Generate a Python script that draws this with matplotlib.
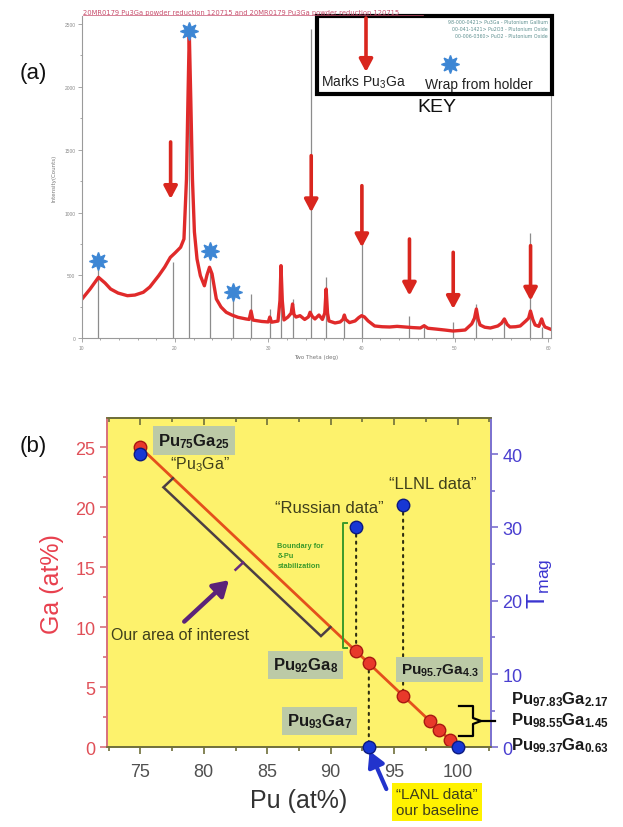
import matplotlib
matplotlib.use('Agg')
import matplotlib.pyplot as plt
from matplotlib.patches import Rectangle
from matplotlib.lines import Line2D
from matplotlib.ticker import MultipleLocator

plt.rcParams['font.family'] = ['Liberation Sans', 'DejaVu Sans']
plt.rcParams['mathtext.fontset'] = 'custom'
plt.rcParams['mathtext.rm'] = 'Liberation Sans'
plt.rcParams['mathtext.it'] = 'Liberation Sans:italic'
plt.rcParams['mathtext.bf'] = 'Liberation Sans:bold'
plt.rcParams['mathtext.default'] = 'regular'

W, H = 623, 828

# ---------------- Panel (a) data ----------------
xrd_two_theta = [10.04, 10.9, 11.8, 12.5, 13.1, 13.9, 14.9, 15.7, 16.6, 17.3, 18.25, 18.9, 19.5, 20.0,
                 20.6, 20.96, 21.23, 21.39, 21.53, 21.69, 21.87, 22.08, 22.36, 22.72, 23.15, 23.43,
                 23.70, 23.97, 24.43, 24.93, 25.49, 26.1, 26.75, 27.6, 27.95, 28.15, 28.35, 29.3,
                 30.0, 30.16, 30.35, 31.04, 31.25, 31.36, 31.5, 31.68, 32.1, 32.45, 32.6, 32.75,
                 32.97, 33.4, 33.9, 34.3, 34.48, 34.7, 35.0, 35.43, 35.8, 36.05, 36.2, 36.35, 36.5,
                 37.15, 37.7, 38.0, 38.15, 38.3, 38.7, 39.3, 39.7, 40.0, 40.3, 40.7, 41.4, 42.2,
                 43.0, 43.8, 44.65, 45.5, 46.3, 46.7, 47.1, 47.9, 48.9, 49.8, 50.5, 51.1, 51.8,
                 52.1, 52.3, 52.5, 52.7, 53.2, 53.8, 54.6, 55.0, 55.3, 55.6, 55.9, 56.5, 57.0,
                 57.6, 57.9, 58.1, 58.35, 58.6, 59.0, 59.3, 59.5, 59.65, 60.0, 60.2]
xrd_intensity = [313, 392, 485, 440, 392, 360, 339, 344, 366, 408, 498, 567, 644, 679,
                 724, 790, 1267, 1904, 2434, 1904, 1267, 846, 631, 498, 418, 504,
                 565, 512, 313, 249, 207, 185, 167, 154, 150, 217, 145, 134,
                 130, 169, 128, 137, 300, 578, 300, 146, 169, 200, 273, 190,
                 169, 180, 150, 170, 207, 175, 154, 185, 150, 200, 392, 200, 138,
                 122, 130, 150, 185, 150, 125, 138, 165, 180, 170, 138, 98, 92,
                 90, 95, 90, 85, 82, 100, 80, 74, 66, 58, 62, 66, 114,
                 160, 233, 150, 106, 88, 82, 98, 120, 154, 110, 90, 92, 98,
                 138, 160, 217, 150, 106, 95, 154, 110, 90, 80, 74]

stick_two_theta = [11.8, 19.83, 21.53, 23.78, 26.2, 28.1, 30.16, 31.36, 32.6, 34.55, 36.2, 38.15,
                   40.03, 45.1, 46.7, 49.8, 52.26, 55.26, 58.1, 59.3]
stick_intensity = [617, 605, 2430, 530, 313, 352, 233, 578, 313, 2460, 488, 193,
                   1200, 177, 114, 130, 273, 138, 840, 90]

arrow_two_theta = [19.53, 34.6, 40.03, 45.13, 49.82, 58.11]
arrow_start = [1562, 1453, 1214, 790, 684, 737]
arrow_tip = [1108, 1002, 724, 339, 233, 299]

star_two_theta = [11.79, 21.53, 23.78, 26.2]
star_intensity = [617, 2447, 697, 366]

xticks_a = [10, 20, 30, 40, 50, 60]
yticks_a = [0, 500, 1000, 1500, 2000, 2500]

# ---------------- Panel (b) data ----------------
line_pu = [75, 100]
line_ga = [25, 0]
ga_pu = [75, 92, 93, 95.7, 97.83, 98.55, 99.37]
ga_val = [25, 8, 7, 4.3, 2.17, 1.45, 0.63]
tmag_pu = [75, 92, 95.7, 93, 100]
tmag_val = [40, 30, 33, 0, 0]
xticks_b = [75, 80, 85, 90, 95, 100]
yticks_ga = [0, 5, 10, 15, 20, 25]
yticks_t = [0, 10, 20, 30, 40]

fig = plt.figure(figsize=(6.23, 8.28), dpi=100)
fig.patch.set_facecolor('white')


def fx(x):
    return x / W


def fy(y):
    return 1 - y / H


# ================= Panel (a) =================
axa = fig.add_axes([fx(81.7), fy(339.3), (551 - 81.7) / W, (339.3 - 17) / H])
axa.set_xlim(10, 60.3)
axa.set_ylim(0, 2564)
axa.vlines(stick_two_theta, 0, stick_intensity, color='#8c8c8c', lw=0.9, zorder=1)
axa.plot(xrd_two_theta, xrd_intensity, color='#e02a2a', lw=2.4, zorder=2, solid_joinstyle='round')
for t, s, e in zip(arrow_two_theta, arrow_start, arrow_tip):
    axa.annotate('', xy=(t, e), xytext=(t, s),
                 arrowprops=dict(arrowstyle='-|>,head_length=0.75,head_width=0.4',
                                 color='#d9261e', lw=2.6, shrinkA=0, shrinkB=0), zorder=4)
axa.plot(star_two_theta, star_intensity, linestyle='none', marker=(8, 1, 0), ms=13,
         color='#3d86d4', mec='#3d86d4', zorder=5, clip_on=False)

axa.set_xticks(xticks_a)
axa.set_yticks(yticks_a)
axa.xaxis.set_minor_locator(MultipleLocator(2))
axa.yaxis.set_minor_locator(MultipleLocator(250))
axa.tick_params(which='both', direction='out', colors='#9a9a9a', labelsize=3.5,
                labelcolor='#8a8a8a', width=0.6, pad=1.5)
axa.tick_params(which='major', length=3)
axa.tick_params(which='minor', length=1.5)
axa.tick_params(axis='y', right=False)
for side in ['left', 'bottom', 'right']:
    axa.spines[side].set_color('#9a9a9a')
    axa.spines[side].set_linewidth(0.8)
axa.spines['top'].set_visible(False)
axa.spines['right'].set_bounds(0, 2450)
axa.set_xlabel('Two Theta (deg)', fontsize=4, color='#777777', labelpad=3, family='DejaVu Sans')
axa.set_ylabel('Intensity(Counts)', fontsize=4, color='#777777', labelpad=6, family='DejaVu Sans')

# title line
fig.text(fx(83), fy(12.5), '20MR0179 Pu3Ga powder reduction 120715 and 20MR0179 Pu3Ga powder reduction 120715',
         fontsize=4.9, color='#c8506e', ha='left', va='center', family='DejaVu Sans')
fig.add_artist(Line2D([fx(83), fx(423)], [fy(15.5), fy(15.5)], color='#c8506e', lw=0.5))

# key box
axa.add_patch(Rectangle((fx(317), fy(95)), (551.6 - 317) / W, (95 - 16.7) / H,
                        transform=fig.transFigure, fill=True, fc='white', ec='black', lw=3,
                        clip_on=False, zorder=6))
legend_lines = ['98-000-0421> Pu3Ga - Plutonium Gallium',
                '00-041-1421> Pu2O3 - Plutonium Oxide',
                '00-006-0360> PuO2 - Plutonium Oxide']
for i, s in enumerate(legend_lines):
    fig.text(fx(548), fy(22 + 7.2 * i), s, fontsize=3.4, color='#5f9090', ha='right', va='center',
             family='DejaVu Sans', zorder=8)
axa.annotate('', xy=(fx(366), fy(73)), xytext=(fx(366), fy(19)), xycoords='figure fraction',
             textcoords='figure fraction',
             arrowprops=dict(arrowstyle='-|>,head_length=0.75,head_width=0.4',
                             color='#d9261e', lw=2.6, shrinkA=0, shrinkB=0), zorder=9)
fig.text(fx(321), fy(82), 'Marks Pu$_3$Ga', fontsize=10, color='#222222', ha='left', va='center', zorder=8)
fig.text(fx(425), fy(85), 'Wrap from holder', fontsize=10, color='#222222', ha='left', va='center', zorder=8)
fig.add_artist(Line2D([fx(449.6)], [fy(65)], marker=(8, 1, 0), ms=13, color='#3d86d4',
                      mec='#3d86d4', linestyle='none', zorder=9))
fig.text(fx(437), fy(107), 'KEY', fontsize=14, color='#111111', ha='center', va='center')
fig.text(fx(33), fy(73), '(a)', fontsize=16, color='#111111', ha='center', va='center')

# ================= Panel (b) =================
axb = fig.add_axes([fx(107.3), fy(748.3), (490.7 - 107.3) / W, (748.3 - 419.3) / H])
axb.set_facecolor('#fdf26c')
axb.set_xlim(72.4, 102.6)
axb.set_ylim(0, 27.42)
ax2 = axb.twinx()
ax2.set_ylim(0, 44.9)

red_c = '#e05058'
blue_c = '#4a3fd0'
axb.plot(line_pu, line_ga, color='#e4501c', lw=2.0, zorder=3)

# dotted connector lines (Tmag points down to compositions)
dot_kw = dict(arrowstyle='-', linestyle=(0, (1.0, 2.4)), color='#2d2d10', lw=1.5, shrinkA=0, shrinkB=0)
axb.annotate('', xy=(92, 8), xycoords=axb.transData, xytext=(92, 30), textcoords=ax2.transData,
             arrowprops=dot_kw, zorder=2)
axb.annotate('', xy=(95.7, 4.3), xycoords=axb.transData, xytext=(95.7, 33), textcoords=ax2.transData,
             arrowprops=dot_kw, zorder=2)
axb.annotate('', xy=(93, 0), xycoords=axb.transData, xytext=(93, 7), textcoords=axb.transData,
             arrowprops=dot_kw, zorder=2)

axb.plot(ga_pu, ga_val, linestyle='none', marker='o', ms=9, mfc='#e8392a', mec='#a81812',
         mew=1.0, zorder=5, clip_on=False)
ax2.plot(tmag_pu, tmag_val, linestyle='none', marker='o', ms=9, mfc='#1737d4', mec='#0c1a80',
         mew=1.0, zorder=5, clip_on=False)

# bracket for area of interest
br_c = '#4c3f44'
axb.plot([77.57, 76.82, 89.23, 89.98], [22.42, 21.67, 9.27, 10.02], color=br_c, lw=1.8, zorder=3,
         solid_joinstyle='miter')
axb.plot([83.1, 82.5], [15.4, 14.8], color='#6a2a80', lw=1.8, zorder=3)
axb.annotate('', xy=(81.98, 13.93), xytext=(78.46, 10.48),
             arrowprops=dict(arrowstyle='-|>,head_length=0.9,head_width=0.55', color='#5b2379',
                             lw=3.2, shrinkA=0, shrinkB=0), zorder=4)
axb.text(72.7, 9.4, 'Our area of interest', fontsize=11.5, color='#3f3f1c', ha='left', va='center',
         zorder=4)

# green boundary bracket
axb.plot([91.3, 90.96, 90.96, 91.3], [18.7, 18.7, 8.25, 8.25], color='#3a9a2a', lw=1.4, zorder=3)
axb.text(85.8, 17.1, 'Boundary for\nδ-Pu\nstabilization', fontsize=5.3, color='#3a9a2a',
         fontweight='bold', ha='left', va='top', linespacing=1.6, zorder=4)

# labels
box_kw = dict(boxstyle='square,pad=0.3', fc='#bccaa6', ec='none')
ax2.text(79.2, 25.55, r'$\mathbf{Pu_{75}Ga_{25}}$', transform=axb.transData, fontsize=12,
         color='#1a1a1a', ha='center', va='center', bbox=box_kw, zorder=6)
ax2.text(79.7, 23.6, '“Pu$_3$Ga”', transform=axb.transData, fontsize=11.5, color='#3f3f1c',
         ha='center', va='center', zorder=6)
ax2.text(89.9, 20.0, '“Russian data”', transform=axb.transData, fontsize=12, color='#3f3f1c',
         ha='center', va='center', zorder=6)
ax2.text(98.05, 22.0, '“LLNL data”', transform=axb.transData, fontsize=12, color='#3f3f1c',
         ha='center', va='center', zorder=6)
ax2.text(88.0, 6.86, r'$\mathbf{Pu_{92}Ga_8}$', transform=axb.transData, fontsize=12,
         color='#1a1a1a', ha='center', va='center', bbox=box_kw, zorder=6)
ax2.text(98.6, 6.5, r'$\mathbf{Pu_{95.7}Ga_{4.3}}$', transform=axb.transData, fontsize=11,
         color='#1a1a1a', ha='center', va='center', bbox=box_kw, zorder=6)
ax2.text(89.13, 2.19, r'$\mathbf{Pu_{93}Ga_7}$', transform=axb.transData, fontsize=12,
         color='#1a1a1a', ha='center', va='center', bbox=box_kw, zorder=6)

for yy, s in [(700, r'$\mathbf{Pu_{97.83}Ga_{2.17}}$'), (721, r'$\mathbf{Pu_{98.55}Ga_{1.45}}$'),
              (746, r'$\mathbf{Pu_{99.37}Ga_{0.63}}$')]:
    fig.text(fx(511), fy(yy), s, fontsize=12, color='#1a1a1a', ha='left', va='center')

# brace
fig.add_artist(Line2D([fx(459), fx(473), fx(473), fx(481), fx(473), fx(473), fx(459)],
                      [fy(707), fy(707), fy(719), fy(722), fy(725), fy(737), fy(737)],
                      color='black', lw=1.6))
fig.add_artist(Line2D([fx(481), fx(495)], [fy(722), fy(722)], color='black', lw=1.6))

# LANL box + arrow
fig.text(fx(437), fy(803), '“LANL data”\nour baseline', fontsize=11, color='#3f3f1c', ha='center',
         va='center', linespacing=1.25,
         bbox=dict(boxstyle='square,pad=0.25', fc='#fff200', ec='none'))
axb.annotate('', xy=(93.06, -0.31), xytext=(94.38, -3.48), annotation_clip=False,
             arrowprops=dict(arrowstyle='-|>,head_length=0.9,head_width=0.5', color='#2233cc',
                             lw=3.0, shrinkA=0, shrinkB=0), zorder=7)

# axes styling
axb.set_xticks(xticks_b)
axb.set_yticks(yticks_ga)
ax2.set_yticks(yticks_t)
axb.xaxis.set_minor_locator(MultipleLocator(2.5))
axb.yaxis.set_minor_locator(MultipleLocator(2.5))
ax2.yaxis.set_minor_locator(MultipleLocator(5))
axb.tick_params(axis='y', which='both', colors='#d8707c', labelcolor=red_c, labelsize=13, width=1.2)
axb.tick_params(axis='y', which='major', length=5)
axb.tick_params(axis='y', which='minor', length=3)
ax2.tick_params(axis='y', which='both', colors='#7a70d0', labelcolor=blue_c, labelsize=13, width=1.2)
ax2.tick_params(axis='y', which='major', length=5)
ax2.tick_params(axis='y', which='minor', length=3)
axb.tick_params(axis='x', which='both', colors='#70703a', labelcolor='#505050', labelsize=13, width=1.2,
                direction='out', pad=6)
axb.tick_params(axis='x', which='major', length=5)
axb.tick_params(axis='x', which='minor', length=3)
sec = axb.secondary_xaxis('top')
sec.set_xticks(xticks_b)
sec.xaxis.set_minor_locator(MultipleLocator(2.5))
sec.tick_params(axis='x', which='both', direction='in', colors='#70703a', labeltop=False, width=1.2)
sec.tick_params(axis='x', which='major', length=5)
sec.tick_params(axis='x', which='minor', length=3)
sec.spines['top'].set_color('#70703a')
sec.spines['top'].set_linewidth(1.2)

for a in (axb, ax2):
    a.spines['left'].set_color('#d8707c')
    a.spines['right'].set_color('#7a70d0')
    a.spines['top'].set_color('#70703a')
    a.spines['bottom'].set_color('#70703a')
    for s in a.spines.values():
        s.set_linewidth(1.2)

axb.set_ylabel('Ga (at%)', fontsize=18, color='#e8404e', labelpad=8)
axb.set_xlabel('Pu (at%)', fontsize=18, color='#333333', labelpad=6)
ax2.set_ylabel('T$_{mag}$', fontsize=18, color='#3a34d0', labelpad=2)
fig.text(fx(33), fy(447), '(b)', fontsize=16, color='#111111', ha='center', va='center')

fig.savefig('out.png', dpi=100, facecolor='white')
